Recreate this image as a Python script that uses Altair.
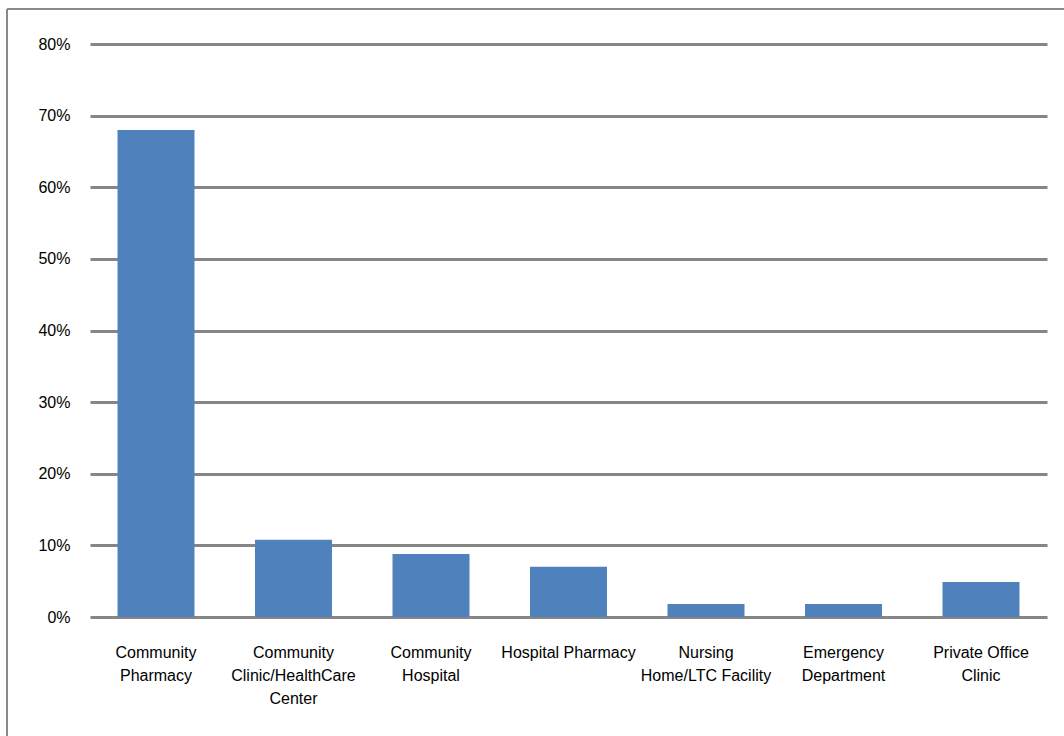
import altair as alt
import pandas as pd

categories = [
    "Community|Pharmacy",
    "Community|Clinic/HealthCare|Center",
    "Community|Hospital",
    "Hospital Pharmacy",
    "Nursing|Home/LTC Facility",
    "Emergency|Department",
    "Private Office|Clinic",
]
values = [0.68, 0.108, 0.088, 0.070, 0.018, 0.018, 0.049]
y_ticks = [0, 0.1, 0.2, 0.3, 0.4, 0.5, 0.6, 0.7, 0.8]

df = pd.DataFrame({"cat": categories, "val": values})

W, H = 957, 573
FONT = "Liberation Sans"

bars = alt.Chart(df).mark_bar(color="#4F81BD").encode(
    x=alt.X("cat:N", sort=categories, title=None,
            scale=alt.Scale(paddingInner=0.44, paddingOuter=0.2),
            axis=alt.Axis(labelAngle=0, labelExpr="split(datum.label, '|')",
                          labelFontSize=16, labelFont=FONT, labelColor="#000000",
                          labelLineHeight=23, labelPadding=27, labelBaseline="top",
                          domain=False, ticks=False, grid=False, labelLimit=200)),
    y=alt.Y("val:Q", title=None,
            scale=alt.Scale(domain=[0, 0.8], nice=False),
            axis=alt.Axis(values=y_ticks, format=".0%", labelFontSize=16, labelFont=FONT,
                          labelColor="#000000", labelPadding=20, domain=False, ticks=False,
                          grid=True, gridColor="#868686", gridWidth=3)),
)

frame_top = alt.Chart(df).mark_rule(color="#8a8a8a", strokeWidth=2, clip=False).encode(
    x=alt.value(-83), x2=alt.value(W + 100), y=alt.value(-35)
)
frame_left = alt.Chart(df).mark_rule(color="#8a8a8a", strokeWidth=2, clip=False).encode(
    x=alt.value(-83), y=alt.value(-35), y2=alt.value(H + 200)
)

chart = alt.layer(bars, frame_top, frame_left).properties(
    width=W, height=H,
    background="#ffffff",
    autosize=alt.AutoSizeParams(type="none"),
    padding={"left": 90, "top": 44, "right": 17, "bottom": 119},
).configure_view(strokeWidth=0, stroke="transparent")

chart.save("out.html", embed_options={"renderer": "svg", "actions": False})
